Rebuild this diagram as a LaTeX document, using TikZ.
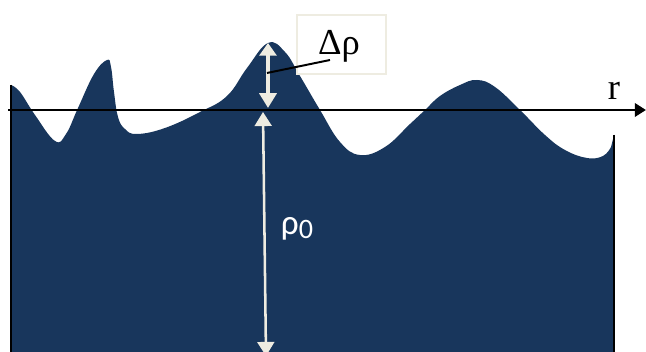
\documentclass[tikz,border=0pt]{standalone}
\usepackage{fontspec}
\setmainfont{Liberation Serif}
\newfontfamily\labelsans{Carlito}
\usetikzlibrary{arrows.meta}

\definecolor{oceanblue}{RGB}{24,54,92}
\definecolor{creamline}{RGB}{238,236,225}

\begin{document}
\begin{tikzpicture}[
    x=0.025cm, y=-0.025cm,
    every node/.style={font=\fontsize{26}{30}\selectfont},
    surface/.style={fill=oceanblue},
    axisline/.style={line width=2pt, -{Triangle[width=9.5pt,length=8pt]}},
    measure/.style={creamline, line width=2.6pt},
    labelbox/.style={
        draw=creamline,
        line width=1.4pt,
        fill=white,
        minimum width=2.23cm,
        minimum height=1.48cm,
        inner sep=0pt,
    },
]
\useasboundingbox (0,0) rectangle (646,352);

% Axis level and slab edges
\def\yaxis{110}
\def\xleft{11}
\def\xright{614}

% --- Perturbed density profile ---
\fill[surface] (\xleft,352) --
    plot[smooth, tension=0.7] coordinates {
        (\xleft,85) (20,92) (35,115) (55,141) (66,134) (78,108) (94,74)
        (107,60) (111,67) (114,92) (118,117) (125,129) (137,134) (165,128)
        (200,112) (227,96) (247,68) (268,43) (285,52) (300,76) (320,110)
        (340,142) (360,155) (385,147) (410,124) (425,110) (440,96) (460,85)
        (477,80) (495,87) (520,110) (545,135) (565,150) (587,158) (603,156)
        (611,147)}
    -- (\xright,135) -- (\xright,352) -- cycle;

% --- Slab edges ---
\draw[line width=1.4pt] (\xleft,85) -- (\xleft,352);
\draw[line width=1pt] (\xright,135) -- (\xright,352);

% --- Radial axis ---
\coordinate (axisstart) at (8,\yaxis);
\coordinate (axisend) at (646,\yaxis);
\draw[axisline] (axisstart) -- (axisend);
\node (rlabel) at (614,91) {r};

% --- Amplitude of the perturbation ---
\coordinate (crest) at (268,43);
\coordinate (crestbase) at (268,108);
\draw[measure, {Triangle[width=12pt,length=9pt]}-{Triangle[width=12pt,length=10.5pt]}]
    (crest) -- (crestbase);

% --- Mean density ---
\coordinate (meantop) at (263,112);
\coordinate (meanbottom) at (266,356);
\draw[measure, line width=1.8pt, {Triangle[width=12pt,length=10pt]}-{Triangle[width=12pt,length=10pt]}]
    (meantop) -- (meanbottom);
\node[text=white, font=\labelsans\fontsize{25}{28}\selectfont] (meanlabel) at (297,229)
    {ρ\raisebox{-0.12em}{\fontsize{20}{22}\selectfont 0}};

% --- Label box for the amplitude ---
\node[labelbox] (ampbox) at (341.5,44.5) {};
\node (amplabel) at (339,46) {Δρ};
\coordinate (leadstart) at (267,73);
\coordinate (leadend) at (330,60);
\draw[line width=1.4pt] (leadstart) -- (leadend);

\end{tikzpicture}
\end{document}
